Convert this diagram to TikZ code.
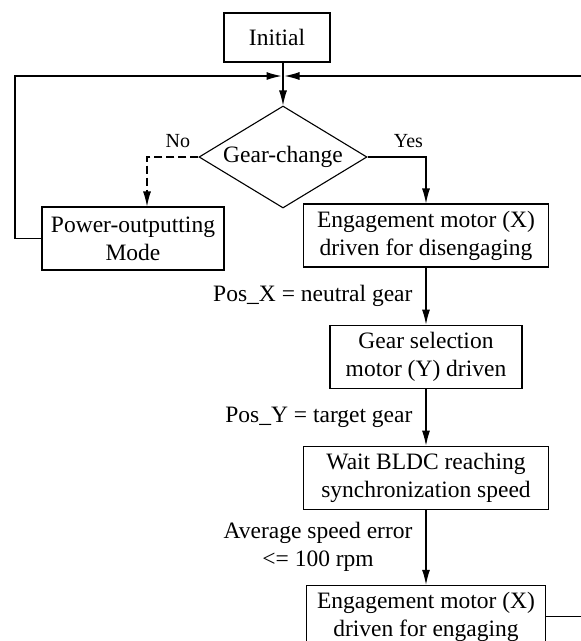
\documentclass[tikz,border=0pt]{standalone}
\usepackage{fontspec}
\setmainfont{Liberation Serif}
\usetikzlibrary{arrows.meta,shapes.geometric,positioning}

\begin{document}
\begin{tikzpicture}[x=1pt, y=-1pt, >={Latex[length=15pt,width=8pt]}, line width=1.1pt,
    font=\fontsize{23.5}{28}\selectfont, node distance=57pt,
    block/.style={draw, rectangle, align=center, minimum height=63pt, inner sep=2pt},
    decision/.style={draw, diamond, aspect=1.65, inner sep=0pt, minimum width=168pt, minimum height=102pt},
    cond/.style={anchor=east, align=center, inner sep=0pt, xshift=-13pt},
    branch/.style={font=\fontsize{20}{24}\selectfont, yshift=5pt}]
    \path [use as bounding box, clip] (0,0) rectangle (581,641);

    % Nodes {init, gc, pwr, eng1, sel, wait, eng2}
    \node [block, minimum width=106pt, minimum height=49pt]	(init) at (277,37.5)	{Initial};
    \node [decision]					(gc)   at (283,157)		{Gear-change};
    \node [block, minimum width=182pt]	(pwr)  at (133,238.5)	{Power-outputting\\Mode};
    \node [block, minimum width=245pt]	(eng1) at (426,235.5)	{Engagement motor (X)\\driven for disengaging};
    \node [block, minimum width=192pt]	(sel)  [below=of eng1]	{Gear selection\\motor (Y) driven};
    \node [block, minimum width=245pt]	(wait) [below=of sel]	{Wait BLDC reaching\\synchronization speed};
    \node [block, minimum width=239pt]	(eng2) [below=75pt of wait]	{Engagement motor (X)\\driven for engaging};

    % Corners of the loops
    \coordinate (join)    at (283,76);
    \coordinate (nocorner) at (147,157);
    \coordinate (lcorner) at (15,76);
    \coordinate (rcorner) at (600,76);

    % Paths
    \path [->] 	(init.south -| gc.north) edge 	(gc.north);
    \draw [->, dash pattern=on 8pt off 4pt] 	(gc.west) -- node [above, pos=0.4, branch] {No} (nocorner) -- (nocorner |- pwr.north);
    \draw [->] 	(gc.east) -| node [above, pos=0.35, branch] {Yes} (eng1.north);
    \path [->] 	(eng1) edge 	node [cond] {Pos\_X = neutral gear}	(sel);
    \path [->] 	(sel) edge 		node [cond] {Pos\_Y = target gear}	(wait);
    \path [->] 	(wait) edge 	node [cond] {Average speed error\\<= 100 rpm}	(eng2);
    \draw [->, shorten >=1.5pt] 	(pwr.west) -| (lcorner) -- (join);
    \draw [->, shorten >=1.5pt] 	(eng2.east) -| (rcorner) -- (join);

\end{tikzpicture}
\end{document}
